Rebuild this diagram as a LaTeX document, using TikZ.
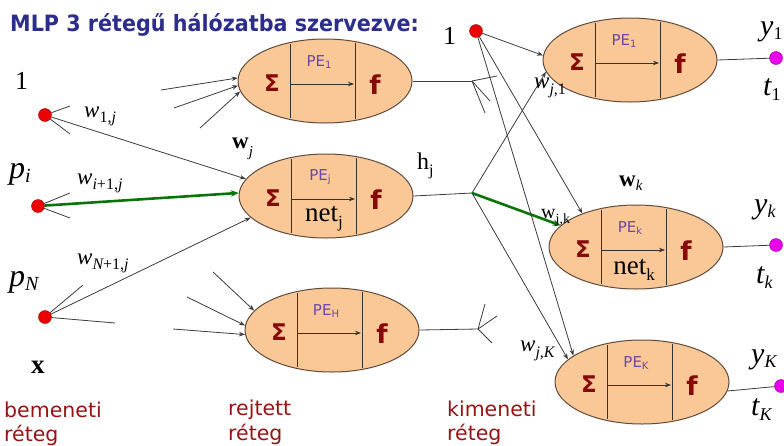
\documentclass[tikz,border=0pt]{standalone}
\usepackage{fontspec}
\setmainfont{Liberation Serif}
\newfontfamily\dvs{DejaVu Sans}
\usetikzlibrary{shapes.geometric,arrows.meta}
\definecolor{peach}{RGB}{250,200,150}
\definecolor{edgec}{RGB}{95,75,60}
\definecolor{sigc}{RGB}{135,10,10}
\definecolor{pec}{RGB}{105,70,170}
\definecolor{titc}{RGB}{45,45,140}
\definecolor{layc}{RGB}{150,20,20}
\definecolor{greenc}{RGB}{10,115,10}
\definecolor{linec}{RGB}{60,60,60}
\definecolor{dotred}{RGB}{235,0,0}
\definecolor{dotmag}{RGB}{235,0,235}
\newcommand\fs[1]{\fontsize{#1}{#1}\selectfont}
\newcommand\lsub[3]{\raisebox{-#2pt}{\fs{#1}#3}}
\tikzset{
  neuron/.style={ellipse,draw=edgec,fill=peach,line width=1pt,minimum width=174pt,minimum height=84pt,inner sep=0pt},
  innerline/.style={draw=black!80,line width=0.8pt},
  tip/.style={-{Stealth[length=6pt,width=4.5pt]}},
  conn/.style={draw=linec,line width=0.8pt},
  gconn/.style={draw=greenc,line width=2.6pt,-{Stealth[length=8pt,width=6.5pt]}},
  rdot/.style={circle,fill=dotred,draw=red!55!black,line width=0.4pt,minimum size=13pt,inner sep=0pt},
  mdot/.style={circle,fill=dotmag,draw=dotmag!60!black,line width=0.4pt,minimum size=13pt,inner sep=0pt},
  lbl/.style={inner sep=0pt,anchor=base west},
  layer/.style={inner sep=0pt,anchor=base west,text=layc,font=\dvs\fs{20.5}},
  sig/.style={inner sep=0pt,text=sigc,font=\dvs\bfseries\fs{23}},
  fsym/.style={inner sep=0pt,text=sigc,font=\dvs\bfseries\fs{26}},
  pe/.style={inner sep=0pt,text=pec,font=\dvs\fs{15}},
}
\newcommand\neuron[5]{%
  \node[neuron] (#1) at (#2,#3) {};
  \draw[innerline] (#1.center) ++(-35,-37) -- ++(0,74);
  \draw[innerline] (#1.center) ++(30,-38) -- ++(0,76);
  \draw[innerline,tip] (#1.center) ++(-35,3) -- ++(64,0);
  \node[sig] (#1sig) at ([shift={(-53,2)}]#1.center) {Σ};
  \node[fsym] (#1f) at ([shift={(50,4)}]#1.center) {f};
  \node[pe] (#1pe) at ([shift={(-6,-19)}]#1.center) {PE\lsub{10}{2.5}{#4}};
  \node[inner sep=0pt] (#1net) at ([shift={(-2,23)}]#1.center) {#5};
}
\begin{document}
\begin{tikzpicture}[x=1pt,y=-1pt]
\useasboundingbox (0,0) rectangle (784,445);
% title
\node[inner sep=0pt,anchor=west,text=titc,font=\dvs\bfseries\fs{22.5}] (title) at (10,25) {\scalebox{0.92}[1]{MLP 3 rétegű hálózatba szervezve:}};
% neurons
\neuron{H1}{325}{81}{1}{}
\neuron{Hj}{326}{196}{j}{\fs{27}net\lsub{17}{6}{j}}
\neuron{HH}{332}{330}{H}{}
\neuron{O1}{630}{60}{1}{}
\neuron{Ok}{636}{247}{k}{\fs{27}net\lsub{17}{6}{k}}
\neuron{OK}{642}{382}{K}{}
% input dots
\node[rdot] (in1) at (45,115) {};
\node[rdot] (pi) at (38,206) {};
\node[rdot] (pN) at (45,317) {};
\node[rdot] (oin1) at (476,31) {};
% output dots
\node[mdot] (y1dot) at (776,58) {};
\node[mdot] (ykdot) at (776,245) {};
\node[mdot] (yKdot) at (781,386) {};
% free-end coordinates
\coordinate (s1a) at (70,106);
\coordinate (s1b) at (70,134);
\coordinate (s2a) at (70,193);
\coordinate (s2b) at (70,218);
\coordinate (s3a) at (83,285);
\coordinate (s3b) at (115,323);
\coordinate (a1) at (161,90);
\coordinate (a2) at (174,108);
\coordinate (a3) at (200,128);
\coordinate (b1) at (213,272);
\coordinate (b2) at (187,297);
\coordinate (b3) at (173,329);
\coordinate (f1) at (472,81);
\coordinate (f1a) at (497,76);
\coordinate (f1b) at (490,101);
\coordinate (f1c) at (485,113);
\coordinate (hpt) at (472,193);
\coordinate (f3) at (478,329);
\coordinate (f3a) at (485,304);
\coordinate (f3b) at (497,316);
\coordinate (f3c) at (492,343);
% input stubs
\draw[conn] (in1) -- (s1a);
\draw[conn] (in1) -- (s1b);
\draw[conn] (pi) -- (s2a);
\draw[conn] (pi) -- (s2b);
\draw[conn] (pN) -- (s3a);
\draw[conn] (pN) -- (s3b);
% input to hidden j
\draw[conn,tip] (in1) -- (Hj.168);
\draw[gconn] (pi) -- (Hj.178);
\draw[conn,tip] (pN) -- (Hj.196);
% other hidden inputs
\draw[conn,tip] (a1) -- (H1.178);
\draw[conn,tip] (a2) -- (H1.183);
\draw[conn,tip] (a3) -- (H1.187);
\draw[conn,tip] (b1) -- (HH.166);
\draw[conn,tip] (b2) -- (HH.177);
\draw[conn,tip] (b3) -- (HH.183);
% hidden outputs
\draw[conn] (H1.east) -- (f1);
\draw[conn] (f1) -- (f1a);
\draw[conn] (f1) -- (f1b);
\draw[conn] (f1) -- (f1c);
\draw[conn] (Hj.east) -- (hpt);
\draw[conn] (HH.east) -- (f3);
\draw[conn] (f3) -- (f3a);
\draw[conn] (f3) -- (f3b);
\draw[conn] (f3) -- (f3c);
% to output layer
\draw[conn,tip] (oin1) -- (O1.177);
\draw[conn,tip] (hpt) -- (O1.188);
\draw[conn,tip] (oin1) -- (Ok.148);
\draw[gconn] (hpt) -- (Ok.164);
\draw[conn,tip] (hpt) -- (OK.163);
\draw[conn,tip] (oin1) -- (OK.159);
% outputs
\draw[conn] (O1.east) -- (y1dot);
\draw[conn] (Ok.east) -- (ykdot);
\draw[conn] (OK.-6) -- (yKdot);
% labels left
\node[lbl] (l1) at (15,89) {\fs{26}1};
\node[lbl] (lw1) at (84,117) {\fs{23}\itshape w\lsub{16}{5}{\upshape 1,\itshape j}};
\node[lbl] (lpi) at (9,178) {\fs{32}\itshape p\lsub{20}{4}{i}};
\node[lbl] (lwi) at (77,184) {\fs{23}\itshape w\lsub{16}{5}{i\upshape +1,\itshape j}};
\node[lbl] (lwN) at (77,264) {\fs{23}\itshape w\lsub{16}{5}{N\upshape +1,\itshape j}};
\node[lbl] (lpN) at (9,286) {\fs{32}\itshape p\lsub{20}{4}{N}};
\node[lbl] (lx) at (31,373) {\fs{27}\bfseries x};
\node[lbl] (lwj) at (232,148) {\fs{23}\bfseries w\lsub{15}{8}{\mdseries\itshape j}};
\node[lbl] (lhj) at (417,169) {\fs{24}h\lsub{16}{6}{j}};
% labels right
\node[lbl] (l2) at (443,44) {\fs{26}1};
\node[lbl] (lwj1) at (534,88) {\fs{23}\itshape w\lsub{16}{6}{j,\upshape 1}};
\node[lbl] (lwk) at (619,186) {\fs{23}\bfseries w\lsub{15}{4}{\mdseries\itshape k}};
\node[lbl] (lwjk) at (541,218) {\fs{20}w\lsub{14}{5}{j,k}};
\node[lbl] (lwjK) at (520,351) {\fs{23}\itshape w\lsub{16}{6}{j,K}};
\node[lbl] (ly1) at (760,35) {\fs{30}\itshape y\lsub{18}{4}{\upshape 1}};
\node[lbl] (lt1) at (763,95) {\fs{30}\itshape t\lsub{18}{5}{\upshape 1}};
\node[lbl] (lyk) at (754,213) {\fs{30}\itshape y\lsub{18}{4}{k}};
\node[lbl] (ltk) at (756,283) {\fs{30}\itshape t\lsub{18}{5}{k}};
\node[lbl] (lyK) at (751,363) {\fs{30}\itshape y\lsub{18}{4}{K}};
\node[lbl] (ltK) at (751,415) {\fs{30}\itshape t\lsub{18}{5}{K}};
% layer names
\node[layer] (lay1a) at (4,417) {bemeneti};
\node[layer] (lay1b) at (4,441) {réteg};
\node[layer] (lay2a) at (228,415) {rejtett};
\node[layer] (lay2b) at (228,440) {réteg};
\node[layer] (lay3a) at (447,416) {kimeneti};
\node[layer] (lay3b) at (447,440) {réteg};
\end{tikzpicture}
\end{document}
